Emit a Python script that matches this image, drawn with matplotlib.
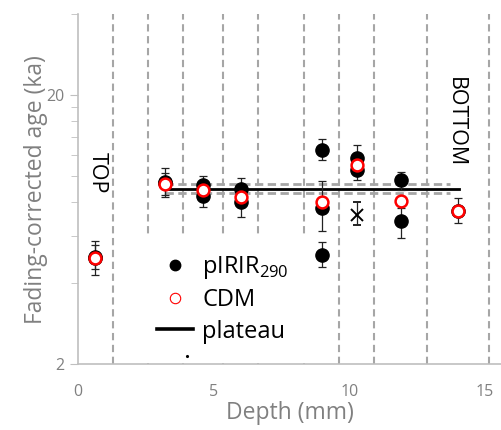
import matplotlib
matplotlib.use("Agg")
import matplotlib.pyplot as plt
from matplotlib.lines import Line2D
import numpy as np

plt.rcParams['font.family'] = ['Open Sans', 'DejaVu Sans']

# ---- data ----
pirir_depth = [0.63, 0.63, 3.21, 3.21, 4.62, 4.62, 6.0, 6.0, 8.98, 8.98, 8.98, 10.27, 10.27, 11.89, 11.89, 14.0]
pirir_age = [5.0, 4.98, 9.5, 9.4, 9.25, 8.47, 8.97, 8.0, 12.54, 7.63, 5.11, 11.65, 10.57, 9.63, 6.79, 7.45]
pirir_lo = [4.28, 4.52, 8.35, 8.53, 8.4, 7.67, 8.2, 7.04, 11.49, 6.25, 4.6, 10.6, 9.63, 8.9, 5.89, 6.67]
pirir_hi = [5.74, 5.53, 10.73, 10.3, 10.05, 9.3, 9.82, 8.9, 13.7, 9.57, 5.67, 13.1, 11.6, 10.35, 7.6, 8.28]

cdm_depth = [0.63, 3.21, 4.62, 6.0, 8.98, 10.27, 11.89, 14.0]
cdm_age = [4.98, 9.35, 8.89, 8.35, 8.0, 11.0, 8.05, 7.45]

outlier_depth = [10.27]
outlier_age = [7.15]
outlier_lo = [6.56]
outlier_hi = [8.0]

slice_bounds = [1.30, 2.59, 3.88, 5.36, 6.65, 8.33, 9.62, 10.91, 12.85, 15.15]

plateau_age = 8.97
plateau_x = [3.23, 14.05]
band_lo, band_hi = 8.65, 9.35
band_x = [3.2, 13.7]

stray_x = [4.0]
stray_y = [2.15]

grey = '#808080'
light = '#bfbfbf'

# ---- plot ----
fig = plt.figure(figsize=(5.02, 4.30), dpi=100)
ax = fig.add_axes([0.1554, 0.1528, 0.8446, 0.8147])

for xb in slice_bounds:
    ax.axvline(xb, color='#a6a6a6', lw=1.5, dashes=(3.5, 2.2), zorder=1)

ax.plot(band_x, [band_hi, band_hi], color='#a6a6a6', lw=2.0, dashes=(3, 1.6), zorder=2)
ax.plot(band_x, [band_lo, band_lo], color='#a6a6a6', lw=2.0, dashes=(3, 1.6), zorder=2)
ax.plot(plateau_x, [plateau_age, plateau_age], color='black', lw=2.0, zorder=3)

age = np.array(pirir_age)
yerr = [age - np.array(pirir_lo), np.array(pirir_hi) - age]
ax.errorbar(pirir_depth, pirir_age, yerr=yerr, fmt='o', color='black', ms=9.5,
            ecolor='#222222', elinewidth=0.9, capsize=3, capthick=0.9, zorder=4)

oage = np.array(outlier_age)
ax.errorbar(outlier_depth, outlier_age,
            yerr=[oage - np.array(outlier_lo), np.array(outlier_hi) - oage],
            fmt='x', color='black', ms=9, mew=1.4, ecolor='#222222',
            elinewidth=0.9, capsize=3, capthick=0.9, zorder=4)

ax.plot(cdm_depth, cdm_age, 'o', mfc='white', mec='#ff0000', mew=1.8, ms=8.5, zorder=5)

ax.plot(stray_x, stray_y, 'k.', ms=2.5, zorder=12)

ax.text(0.70, 10.3, 'TOP', rotation=-90, ha='center', va='center', fontsize=15.5, color='black')
ax.text(13.9, 15.8, 'BOTTOM', rotation=-90, ha='center', va='center', fontsize=15.5, color='black')

# ---- axes ----
ax.set_yscale('log')
ax.set_xlim(0, 15.63)
ax.set_ylim(2, 40)
ax.set_yticks([2, 20])
ax.set_yticklabels(['2', '20'])
ax.set_yticks([4, 6, 8, 10, 12, 14, 16, 18, 40], minor=True)
ax.yaxis.set_minor_formatter(matplotlib.ticker.NullFormatter())
ax.set_xticks([0, 5, 10, 15])
ax.tick_params(axis='x', length=0, labelsize=11.5, labelcolor=grey, pad=14)
ax.tick_params(axis='y', which='major', length=6, color=light, labelsize=11.5, labelcolor=grey)
ax.tick_params(axis='y', which='minor', length=5, color=light)

for s in ['top', 'right']:
    ax.spines[s].set_visible(False)
for s in ['left', 'bottom']:
    ax.spines[s].set_color(light)
    ax.spines[s].set_linewidth(1.2)

ax.set_xlabel('Depth (mm)', fontsize=16.5, color=grey, labelpad=1)
ax.set_ylabel('Fading-corrected age (ka)', fontsize=16.5, color=grey, labelpad=-1)

handles = [
    Line2D([], [], ls='none', marker='o', color='black', ms=7.5),
    Line2D([], [], ls='none', marker='o', mfc='white', mec='#ff0000', mew=0.8, ms=7.5),
    Line2D([], [], color='black', lw=2.6),
]
labels = ['pIRIR$_{\\mathregular{290}}$', 'CDM', 'plateau']
leg = ax.legend(handles, labels, loc='upper left', bbox_to_anchor=(138 / 502, 1 - 235 / 430),
                bbox_transform=fig.transFigure, borderaxespad=0, frameon=True,
                facecolor='white', edgecolor='none', framealpha=1, fancybox=False,
                fontsize=17, handlelength=1.5, handletextpad=0.4, labelspacing=0.3,
                borderpad=0.82)
leg.set_zorder(10)

fig.savefig('out.png', dpi=100)
